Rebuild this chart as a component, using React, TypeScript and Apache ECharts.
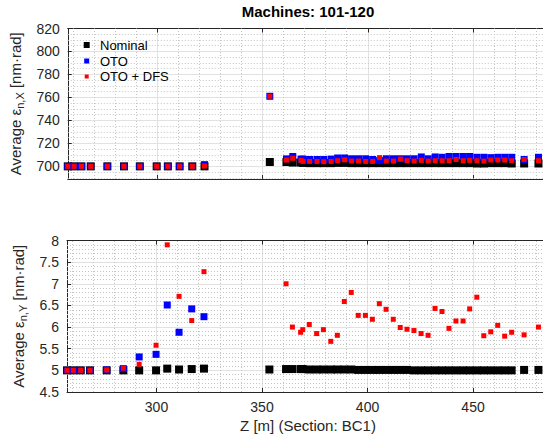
import React, { useEffect, useRef } from "react";
import * as echarts from "echarts";

// Longitudinal positions Z [m] of the monitored elements
const zPositions = [
  257.6, 260.6, 264.1, 268.5, 276.4, 284.3, 291.8, 299.8, 305.1, 310.7, 316.7, 322.5,
  353.5,
  361.4, 364.4, 368.3, 369.3, 372.4, 375.9, 379.1, 382.6, 385.7, 389.0, 392.3, 395.6,
  399.0, 402.3, 405.6, 408.8, 412.2, 415.5, 418.7, 422.0, 425.4, 428.7, 432.0, 435.3,
  438.6, 441.9, 445.3, 448.4, 451.8, 455.1, 458.4, 461.7, 465.0, 468.3, 474.2, 481.0,
];

// Average normalized emittance X [nm·rad]
const nominalX = [
  700, 700, 700, 700, 700, 700, 700, 700, 700, 700, 700, 700,
  703.8,
  703.8, 703.3, 703.3, 703.0, 702.8, 702.8, 702.8, 702.8, 703.0, 703.0, 702.8, 702.8,
  702.8, 702.8, 702.8, 702.8, 702.8, 702.8, 702.8, 702.8, 702.8, 702.8, 702.8, 702.8,
  702.8, 702.8, 702.8, 702.8, 702.5, 702.5, 702.8, 702.8, 702.8, 702.5, 702.5, 702.5,
];
const otoX = [
  700, 700, 700, 700, 700, 700, 700, 700, 700, 700, 700, 701.5,
  761,
  706.5, 708.6, 706.3, 706.3, 706.0, 706.0, 706.0, 706.3, 707.3, 707.3, 706.6, 706.6,
  706.6, 706.0, 705.0, 706.6, 706.6, 706.6, 706.6, 706.6, 708.2, 706.6, 708.2, 707.9,
  708.6, 708.6, 708.6, 708.6, 707.9, 707.9, 707.6, 707.9, 707.9, 707.9, 706.0, 707.9,
];
const dfsX = [
  700, 700, 700, 700, 700, 700, 700, 700, 700, 700, 700, 700.3,
  761,
  705.5, 707.0, 705.2, 704.3, 704.3, 704.3, 704.0, 704.3, 704.9, 705.7, 704.6, 704.6,
  704.3, 704.3, 707.6, 704.6, 704.6, 706.3, 704.9, 704.6, 705.2, 704.6, 704.9, 704.9,
  704.9, 706.0, 704.9, 705.2, 704.9, 704.6, 705.5, 705.5, 705.5, 704.9, 706.0, 704.9,
];

// Average normalized emittance Y [nm·rad]
const nominalY = [
  5.0, 5.0, 5.0, 5.0, 5.0, 5.0, 5.0, 5.0, 5.04, 5.02, 5.03, 5.04,
  5.02,
  5.03, 5.03, 5.03, 5.03, 5.02, 5.02, 5.02, 5.02, 5.02, 5.02, 5.02, 5.01,
  5.01, 5.01, 5.01, 5.01, 5.01, 5.01, 5.01, 5.0, 5.0, 5.0, 5.0, 5.0,
  5.0, 5.0, 5.0, 5.0, 5.0, 5.0, 5.0, 5.0, 5.0, 5.0, 5.01, 5.01,
];
const otoY: (number | null)[] = [
  5.0, 5.0, 5.0, 5.0, 5.01, 5.04, 5.31, 5.37, 6.51, 5.88, 6.42, 6.24,
  null,
  null, null, null, null, null, null, null, null, null, null, null, null,
  null, null, null, null, null, null, null, null, null, null, null, null,
  null, null, null, null, null, null, null, null, null, null, null, null,
];
const dfsY: (number | null)[] = [
  5.0, 5.0, 5.0, 5.0, 5.01, 5.05, 5.14, 5.58, 7.9, 6.71, 6.15, 7.28,
  null,
  7.0, 6.0, 5.88, 5.94, 6.06, 5.85, 5.94, 5.67, 5.81, 6.59, 6.8, 6.27,
  6.27, 6.18, 6.54, 6.41, 6.18, 5.99, 5.95, 5.92, 5.85, 5.81, 6.43, 6.36,
  5.97, 6.14, 6.14, 6.42, 6.69, 5.8, 5.89, 6.04, 5.79, 5.88, 5.82, 6.0,
];

const seriesNames = ["Nominal", "OTO", "OTO + DFS"];
const xTitle = "Z [m] (Section: BC1)";
const chartTitle = "Machines: 101-120";

const FONT = "'Liberation Sans', Arial, Helvetica, sans-serif";
const AX = "#262626";

const X_MIN = 257.6;
const X_MAX = 486;
const Y1_MIN = 689;
const Y1_MAX = 820;
const Y2_MIN = 4.5;
const Y2_MAX = 8;

function pairs(vals: (number | null)[]) {
  const out: number[][] = [];
  zPositions.forEach((z, i) => {
    const v = vals[i];
    if (v != null) out.push([z, v]);
  });
  return out;
}

function minorValues(min: number, max: number, step: number, major: number) {
  const out: number[] = [];
  const start = Math.ceil(min / step - 1e-9);
  const end = Math.floor(max / step + 1e-9);
  for (let k = start; k <= end; k++) {
    const v = Math.round(k * step * 1000) / 1000;
    const r = v / major;
    if (Math.abs(r - Math.round(r)) < 1e-6) continue;
    if (v <= min || v >= max) continue;
    out.push(v);
  }
  return out;
}

function minorGrid(yMin: number, yMax: number, yStep: number, yMajor: number) {
  const data: any[] = [];
  minorValues(X_MIN, X_MAX, 10, 50).forEach((v) => data.push({ xAxis: v }));
  minorValues(yMin, yMax, yStep, yMajor).forEach((v) => data.push({ yAxis: v }));
  return {
    silent: true,
    z: 1,
    symbol: ["none", "none"],
    label: { show: false },
    emphasis: { disabled: true },
    animation: false,
    lineStyle: { color: "#c4c4c4", type: [1, 2], width: 1 },
    data,
  };
}

const axisLine = { show: true, onZero: false, lineStyle: { color: AX, width: 1 } };
const axisTick = { show: true, inside: true, length: 4, lineStyle: { color: AX, width: 1 } };
const majorSplit = { show: true, lineStyle: { color: "#e2e2e2", width: 1 } };
const labelStyle = { fontSize: 14, color: AX, fontFamily: FONT };
const nameStyle = { fontSize: 15, color: AX, fontFamily: FONT };

function xBottom(gridIndex: number, showLabels: boolean) {
  return {
    type: "value",
    gridIndex,
    position: "bottom",
    min: X_MIN,
    max: X_MAX,
    splitNumber: 5,
    axisLine,
    axisTick,
    axisLabel: { show: showLabels, showMinLabel: false, showMaxLabel: false, margin: 8, ...labelStyle },
    splitLine: majorSplit,
    name: showLabels ? xTitle : "",
    nameLocation: "middle",
    nameGap: 26,
    nameTextStyle: { ...nameStyle },
  };
}
function xTop(gridIndex: number) {
  return {
    type: "value",
    gridIndex,
    position: "top",
    min: X_MIN,
    max: X_MAX,
    splitNumber: 5,
    axisLine,
    axisTick,
    axisLabel: { show: false },
    splitLine: { show: false },
  };
}

function yName(sub: string) {
  return `{a|Average ε}{s|${sub}}{a| [nm·rad]}`;
}
const yRich = {
  a: { fontSize: 15, lineHeight: 20, color: AX, fontFamily: FONT },
  s: { fontSize: 11, lineHeight: 11, verticalAlign: "bottom", color: AX, fontFamily: FONT },
};

function scatter(name: string, idx: number, vals: (number | null)[], size: number, color: string, extra: any = {}) {
  return {
    type: "scatter",
    name,
    xAxisIndex: idx * 2,
    yAxisIndex: idx,
    symbol: "rect",
    symbolSize: size,
    itemStyle: { color, opacity: 1 },
    emphasis: { disabled: true },
    z: 2,
    data: pairs(vals),
    ...extra,
  };
}

function legendItem(name: string, top: number, size: number, color: string) {
  const left = 86.7 - size / 2;
  const textStart = 100;
  return {
    data: [name],
    left,
    top,
    padding: 0,
    icon: "rect",
    itemWidth: size,
    itemHeight: size,
    selectedMode: false,
    itemStyle: { color },
    textStyle: {
      fontSize: 13,
      color: "#000",
      fontFamily: FONT,
      padding: [0, 0, 0, textStart - (left + size + 5)],
    },
  };
}

export default function App() {
  const ref = useRef<HTMLDivElement>(null);
  useEffect(() => {
    if (!ref.current) return;
    const chart = echarts.init(ref.current, null, { renderer: "svg" });
    const option: any = {
      animation: false,
      backgroundColor: "#ffffff",
      title: {
        text: chartTitle,
        left: "center",
        top: 4,
        padding: 0,
        textStyle: { fontSize: 15, fontWeight: "bold", color: "#000", fontFamily: FONT },
      },
      legend: [
        legendItem(seriesNames[0], 38.5, 6, "#000000"),
        legendItem(seriesNames[1], 54.5, 5, "#0000ff"),
        legendItem(seriesNames[2], 70, 4, "#ff0000"),
      ],
      grid: [
        { left: 67, top: 28.5, width: 482, height: 150.5 },
        { left: 67, top: 240.5, width: 482, height: 151.5 },
      ],
      xAxis: [xBottom(0, false), xTop(0), xBottom(1, true), xTop(1)],
      yAxis: [
        {
          type: "value",
          gridIndex: 0,
          min: Y1_MIN,
          max: Y1_MAX,
          splitNumber: 6,
          axisLine,
          axisTick,
          axisLabel: { showMinLabel: false, margin: 8, ...labelStyle },
          splitLine: majorSplit,
          name: yName("n,X"),
          nameLocation: "middle",
          nameRotate: 90,
          nameGap: 32,
          nameTextStyle: { ...nameStyle, rich: yRich },
        },
        {
          type: "value",
          gridIndex: 1,
          min: Y2_MIN,
          max: Y2_MAX,
          interval: 0.5,
          axisLine,
          axisTick,
          axisLabel: { margin: 8, ...labelStyle },
          splitLine: majorSplit,
          name: yName("n,Y"),
          nameLocation: "middle",
          nameRotate: 90,
          nameGap: 32,
          nameTextStyle: { ...nameStyle, rich: yRich },
        },
      ],
      series: [
        scatter(seriesNames[0], 0, nominalX, 8, "#000000", { markLine: minorGrid(Y1_MIN, Y1_MAX, 5, 20) }),
        scatter(seriesNames[1], 0, otoX, 7, "#0000ff"),
        scatter(seriesNames[2], 0, dfsX, 5, "#ff0000"),
        scatter(seriesNames[0], 1, nominalY, 8, "#000000", { markLine: minorGrid(Y2_MIN, Y2_MAX, 0.1, 0.5) }),
        scatter(seriesNames[1], 1, otoY, 7, "#0000ff"),
        scatter(seriesNames[2], 1, dfsY, 5, "#ff0000"),
      ],
    };
    chart.setOption(option);
    return () => chart.dispose();
  }, []);
  return (
    <div
      style={{
        position: "fixed",
        left: 0,
        top: 0,
        width: 543,
        height: 435,
        overflow: "hidden",
        background: "#fff",
      }}
    >
      <div ref={ref} style={{ width: 616, height: 435 }} />
    </div>
  );
}
